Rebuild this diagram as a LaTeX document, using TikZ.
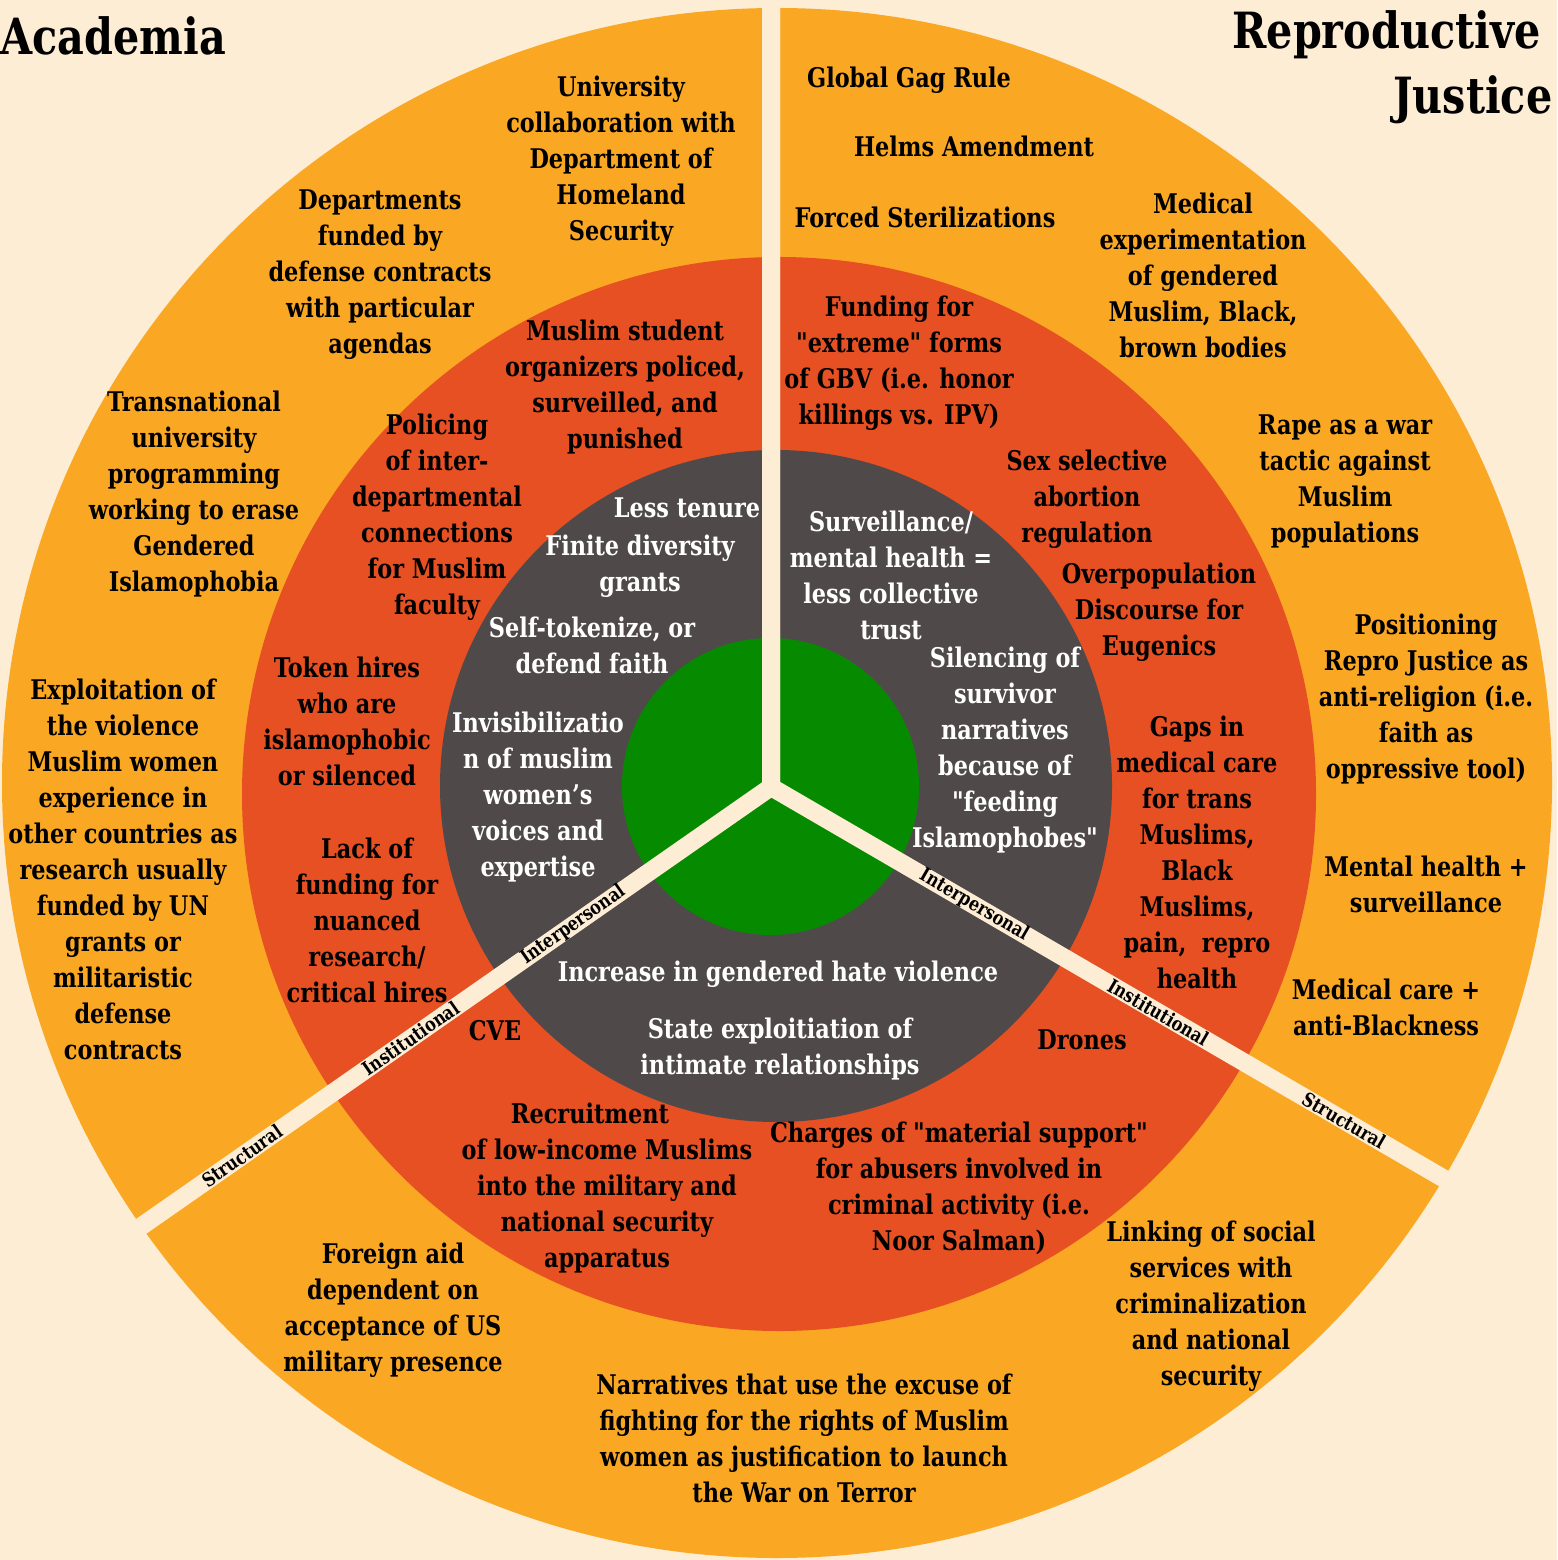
\documentclass[tikz,border=0pt]{standalone}
\usepackage{fontspec}
\newfontfamily\slab{DejaVu Serif Condensed}[BoldFont={DejaVu Serif Condensed Bold}, FakeStretch=0.92]
\usepackage{tikz}
\definecolor{cream}{HTML}{FEEDD5}
\definecolor{ringout}{HTML}{FAA823}
\definecolor{ringmid}{HTML}{E65022}
\definecolor{ringin}{HTML}{504949}
\definecolor{corefill}{HTML}{068B00}
\tikzstyle{ring} = [circle, inner sep=0pt, draw=none]
\tikzstyle{item} = [align=center, inner sep=0pt, font=\slab\fontsize{7.7}{10.24}\selectfont\bfseries]
\tikzstyle{itemw} = [item, text=white]
\tikzstyle{heading} = [inner sep=0pt, font=\slab\fontsize{14.2}{18.4}\selectfont\bfseries]
\tikzstyle{level} = [inner sep=0pt, font=\slab\fontsize{5.5}{6}\selectfont\bfseries]
\tikzstyle{strip} = [draw=cream, line width=0.18cm]

\begin{document}
\begin{tikzpicture}
\useasboundingbox (0,0) rectangle (15.57,-15.60);
\fill[cream] (0,0) rectangle (15.57,-15.60);
%rings
\node(outer)at(7.77,-7.83)[ring, fill=ringout, minimum size=15.5cm]{};
\node(mid)at(7.79,-7.94)[ring, fill=ringmid, minimum size=10.74cm]{};
\node(inner)at(7.76,-7.86)[ring, fill=ringin, minimum size=6.72cm]{};
\node(core)at(7.705,-7.865)[ring, fill=corefill, minimum size=2.97cm]{};

%strips
\coordinate(hub)at(7.71,-7.87);
\coordinate(topend)at(7.71,0.5);
\coordinate(leftend)at([shift={(214.9:9)}]hub);
\coordinate(rightend)at([shift={(-30.2:9)}]hub);
\draw[strip](topend)--(hub)--(leftend);
\draw[strip](topend)--(hub)--(rightend);
\node(lpers)at([shift={(214.9:2.41)}]hub)[level, rotate=34.9]{Interpersonal};
\node(linst)at([shift={(214.9:4.39)}]hub)[level, rotate=34.9]{Institutional};
\node(lstruc)at([shift={(214.9:6.45)}]hub)[level, rotate=34.9]{Structural};
\node(rpers)at([shift={(-30.2:2.35)}]hub)[level, rotate=-30.2]{Interpersonal};
\node(rinst)at([shift={(-30.2:4.48)}]hub)[level, rotate=-30.2]{Institutional};
\node(rstruc)at([shift={(-30.2:6.63)}]hub)[level, rotate=-30.2]{Structural};

%titles
\node(acad)at(0.0,-0.36)[heading, anchor=west]{Academia};
\node(repro)at(15.53,-0.675)[heading, anchor=east, align=right]{Reproductive\hspace*{0.12cm}\\Justice};

%Academia - structural
\node(unidhs)at(6.21,-1.61)[item]{University\\collaboration with\\Department of\\Homeland\\Security};
\node(deptfund)at(3.80,-2.75)[item]{Departments\\funded by\\defense contracts\\with particular\\agendas};
\node(transnat)at(1.94,-4.94)[item]{Transnational\\university\\programming\\working to erase\\Gendered\\Islamophobia};
\node(exploit)at(1.23,-8.69)[item]{Exploitation of\\the violence\\Muslim women\\experience in\\other countries as\\research usually\\funded by UN\\grants or\\militaristic\\defense\\contracts};
%Academia - institutional
\node(students)at(6.25,-3.87)[item]{Muslim student\\organizers policed,\\surveilled, and\\punished};
\node(policing)at(4.37,-5.17)[item]{Policing\\of inter-\\departmental\\connections\\for Muslim\\faculty};
\node(token)at(3.47,-7.21)[item]{Token hires\\who are\\islamophobic\\or silenced};
\node(lackfund)at(3.67,-9.20)[item]{Lack of\\funding for\\nuanced\\research/\\critical hires};
%Academia - interpersonal
\node(tenure)at(6.87,-5.08)[itemw]{Less tenure};
\node(finite)at(6.40,-5.66)[itemw]{Finite diversity\\grants};
\node(selftok)at(5.92,-6.45)[itemw]{Self-tokenize, or\\defend faith};
\node(invis)at(5.38,-7.97)[itemw]{Invisibilizatio\\n of muslim\\women’s\\voices and\\expertise};

%Repro justice - structural
\node(gag)at(9.09,-0.80)[item]{Global Gag Rule};
\node(helms)at(9.74,-1.46)[item]{Helms Amendment};
\node(steril)at(9.25,-2.17)[item]{Forced Sterilizations};
\node(medexp)at(12.03,-2.75)[item]{Medical\\experimentation\\of gendered\\Muslim, Black,\\brown bodies};
\node(rape)at(13.45,-4.81)[item]{Rape as a war\\tactic against\\Muslim\\populations};
\node(position)at(14.26,-6.99)[item]{Positioning\\Repro Justice as\\anti-religion (i.e.\\faith as\\oppressive tool)};
\node(mentalsurv)at(14.26,-8.84)[item]{Mental health +\\surveillance};
\node(medcare)at(13.86,-10.07)[item]{Medical care +\\anti-Blackness};
%Repro justice - institutional
\node(gbv)at(8.99,-3.63)[item]{Funding for\\"extreme" forms\\of GBV (i.e. honor\\killings vs. IPV)};
\node(sexsel)at(10.87,-4.99)[item]{Sex selective\\abortion\\regulation};
\node(overpop)at(11.59,-6.12)[item]{Overpopulation\\Discourse for\\Eugenics};
\node(gaps)at(11.97,-8.52)[item]{Gaps in\\medical care\\for trans\\Muslims,\\Black\\Muslims,\\pain,\ \ repro\\health};
%Repro justice - interpersonal
\node(survtrust)at(8.91,-5.75)[itemw]{Surveillance/\\mental health =\\less collective\\trust};
\node(silencing)at(10.05,-7.50)[itemw]{Silencing of\\survivor\\narratives\\because of\\"feeding\\Islamophobes"};

%bottom - interpersonal
\node(hate)at(7.78,-9.74)[itemw]{Increase in gendered hate violence};
\node(stateexp)at(7.80,-10.49)[itemw]{State exploitiation of\\intimate relationships};
%bottom - institutional
\node(cve)at(4.95,-10.31)[item]{CVE};
\node(drones)at(10.82,-10.40)[item]{Drones};
\node(recruit)at(6.07,-11.88)[item]{Recruitment\hspace*{0.34cm}\\of low-income Muslims\\into the military and\\national security\\apparatus};
\node(charges)at(9.59,-11.88)[item]{Charges of "material support"\\for abusers involved in\\criminal activity (i.e.\\Noor Salman)};
%bottom - structural
\node(foreign)at(3.93,-13.10)[item]{Foreign aid\\dependent on\\acceptance of US\\military presence};
\node(narr)at(8.04,-14.38)[item]{Narratives that use the excuse of\\fighting for the rights of Muslim\\women as justification to launch\\the War on Terror};
\node(linking)at(12.11,-13.06)[item]{Linking of social\\services with\\criminalization\\and national\\security};
\end{tikzpicture}
\end{document}
